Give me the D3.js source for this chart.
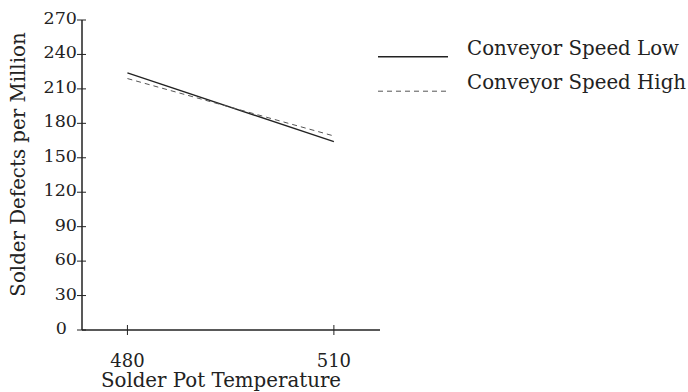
<!DOCTYPE html>
<html>
<head>
<meta charset="utf-8">
<script src="https://cdn.jsdelivr.net/npm/d3@7"></script>
<style>
	body { margin: 0; background: #fff; }
	text { font-family: 'DejaVu Serif', serif; fill: #222; }
</style>
</head>
<body>
<svg id="chart" width="688" height="392"></svg>
<script>
// Chart data.
const temperatures = [480, 510];
const speedLow = [224, 164];
const speedHigh = [219, 169];
const yTicks = [0, 30, 60, 90, 120, 150, 180, 210, 240, 270];
const seriesNames = ['Conveyor Speed Low', 'Conveyor Speed High'];

const svg = d3.select('#chart');
const ink = '#222';

// Plot area.
const plotLeft = 82;
const plotRight = 380;
const plotTop = 20;
const plotBottom = 330;

const x = d3.scaleLinear().domain([473.4, 516.7]).range([plotLeft, plotRight]);
const y = d3.scaleLinear().domain([0, 270]).range([plotBottom, plotTop]);

// Y axis: ticks cross the axis line.
const yAxis = svg.append('g').attr('transform', `translate(${plotLeft},0)`);
yAxis.append('line').attr('y1', y(0)).attr('y2', y(270)).attr('stroke', ink).attr('stroke-width', 1.5);
const yt = yAxis.selectAll('g.tick').data(yTicks).join('g').attr('class', 'tick').attr('transform', d => `translate(0,${y(d)})`);
yt.append('line').attr('x1', -5).attr('x2', 4).attr('stroke', ink).attr('stroke-width', 1);
yt.append('text')
	.attr('x', d => (d === 0 ? -15 : -5))
	.attr('y', 4)
	.attr('text-anchor', 'end')
	.attr('font-size', '17.5px')
	.text(d => d);

// X axis.
const xAxis = svg.append('g').attr('transform', `translate(0,${plotBottom})`);
xAxis.append('line').attr('x1', plotLeft).attr('x2', plotRight).attr('stroke', ink).attr('stroke-width', 1.5);
const xt = xAxis.selectAll('g.tick').data(temperatures).join('g').attr('class', 'tick').attr('transform', d => `translate(${x(d)},0)`);
xt.append('line').attr('y1', -5).attr('y2', 5).attr('stroke', ink).attr('stroke-width', 1);
xt.append('text').attr('y', 37).attr('text-anchor', 'middle').attr('font-size', '18px').text(d => d);

// Axis titles.
svg.append('text')
	.attr('x', 221)
	.attr('y', 387)
	.attr('text-anchor', 'middle')
	.attr('font-size', '19.8px')
	.text('Solder Pot Temperature');

svg.append('text')
	.attr('transform', 'translate(25,164.5) rotate(-90)')
	.attr('text-anchor', 'middle')
	.attr('font-size', '19.8px')
	.text('Solder Defects per Million');

// Series.
const series = [
	{ name: seriesNames[0], values: speedLow, dash: null },
	{ name: seriesNames[1], values: speedHigh, dash: '5,4' },
];

const line = d3
	.line()
	.x((d, i) => x(temperatures[i]))
	.y(d => y(d));

svg.selectAll('path.series')
	.data(series)
	.join('path')
	.attr('class', 'series')
	.attr('d', d => line(d.values))
	.attr('fill', 'none')
	.attr('stroke', d => (d.dash ? '#555' : ink))
	.attr('stroke-width', d => (d.dash ? 1 : 1.3))
	.attr('stroke-dasharray', d => d.dash);

// Legend.
const legend = svg.selectAll('g.legend').data(series).join('g').attr('class', 'legend').attr('transform', (d, i) => `translate(378,${56.7 + i * 34.5})`);
legend.append('line')
	.attr('x1', 0)
	.attr('x2', 70)
	.attr('stroke', d => (d.dash ? '#555' : ink))
	.attr('stroke-width', d => (d.dash ? 1 : 1.5))
	.attr('stroke-dasharray', d => d.dash);
legend.append('text').attr('x', 89).attr('y', -2).attr('font-size', '19.8px').text(d => d.name);
</script>
</body>
</html>
